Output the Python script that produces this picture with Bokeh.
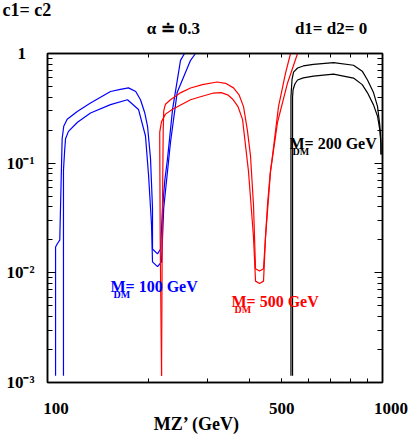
from bokeh.plotting import figure
from bokeh.models import Range1d, FixedTicker, LogAxis, Label, CustomJSTickFormatter
from bokeh.embed import file_html
from bokeh.resources import INLINE

# ---------------- data ----------------
# M_DM = 100 GeV (blue), two curves
mdm100_hi_x = [105.7, 105.7, 107.1, 108.8, 110.1, 110.6, 111.8, 114.5, 122.7, 134.4, 154.2, 165.0,
               174.5, 183.4, 189.5, 195.0, 198.9, 203.0, 205.8, 205.8, 213.0, 217.5, 220.5, 224.0,
               228.2, 236.2, 249.5, 256.4]
mdm100_hi_y = [0.00115, 0.0172, 0.0185, 0.0199, 0.0953, 0.167, 0.217, 0.251, 0.296, 0.353, 0.45, 0.47,
               0.486, 0.45, 0.379, 0.29, 0.217, 0.110, 0.039, 0.0165, 0.0149, 0.0165, 0.039, 0.07,
               0.110, 0.309, 0.866, 1.0]
mdm100_lo_x = [111.6, 111.6, 111.9, 112.5, 113.2, 115.5, 122.9, 134.4, 154.2, 173.3, 186.9, 196.1,
               200.3, 204.4, 205.8, 213.0, 219.0, 222.3, 232.9, 243.8, 267.3, 276.6]
mdm100_lo_y = [0.00115, 0.086, 0.099, 0.13, 0.167, 0.195, 0.236, 0.287, 0.342, 0.379, 0.309, 0.177,
               0.0775, 0.0277, 0.0126, 0.0114, 0.0126, 0.039, 0.155, 0.44, 0.866, 1.0]

# M_DM = 500 GeV (red)
mdm500_hi_x = [219.0, 220.0, 221.5, 222.3, 225.0, 232.9, 250.0, 267.3, 290.0, 320.8, 340.0, 359.2,
               373.0, 384.7, 395.0, 403.6, 412.0, 417.8, 429.5, 441.4, 453.7, 462.0, 469.6, 489.3,
               513.5, 531.5]
mdm500_hi_y = [0.00115, 0.02, 0.2, 0.30, 0.345, 0.379, 0.44, 0.485, 0.52, 0.55, 0.535, 0.486,
               0.42, 0.328, 0.2, 0.117, 0.0418, 0.0109, 0.0104, 0.0109, 0.0418, 0.08, 0.117, 0.328,
               0.662, 1.0]
mdm500_lo_x = [219.0, 217.0, 216.3, 216.3, 219.0, 225.0, 235.6, 267.3, 286.2, 313.0, 330.0, 345.0,
               356.7, 370.0, 382.1, 398.1, 412.0, 417.8, 429.5, 441.4, 447.5, 463.2, 486.0, 520.7,
               557.7]
mdm500_lo_y = [0.00115, 0.02, 0.15, 0.192, 0.24, 0.28, 0.309, 0.379, 0.4035, 0.436, 0.44, 0.42,
               0.385, 0.33, 0.251, 0.0842, 0.0212, 0.0084, 0.0080, 0.0084, 0.0212, 0.0842, 0.236,
               0.539, 1.0]

# M_DM = 200 GeV (black)
mdm200_hi_x = [533.0, 533.0, 534.5, 537.0, 542.6, 557.7, 580.0, 622.3, 714.1, 819.3, 870.0, 902.0,
               940.0, 966.3, 982.0, 989.0, 990.0]
mdm200_hi_y = [0.00115, 0.40, 0.466, 0.58, 0.676, 0.738, 0.77, 0.797, 0.826, 0.781, 0.69, 0.573,
               0.44, 0.33, 0.22, 0.16, 0.12]
mdm200_lo_x = [538.9, 538.9, 541.0, 548.0, 557.7, 580.0, 622.3, 714.1, 819.3, 870.0, 902.0, 940.0,
               966.3, 982.0, 989.0, 990.0]
mdm200_lo_y = [0.00115, 0.40, 0.47, 0.53, 0.573, 0.60, 0.622, 0.648, 0.597, 0.52, 0.438, 0.34,
               0.268, 0.2, 0.15, 0.12]

# ticks and tick labels
x_tick_vals = [100, 500, 1000]
x_tick_text = ["100", "500", "1000"]
x_minor = [200, 300, 400, 500, 600, 700, 800, 900]
y_tick_vals = [1, 0.1, 0.01, 0.001]
y_tick_text = ["1", "10\u207b\u00b9", "10\u207b\u00b2", "10\u207b\u00b3"]
y_minor = [m * d for d in (0.001, 0.01, 0.1) for m in range(2, 10)]

# header texts (placed along the top axis) and corner label
header_x = [237.7, 702.1]
header_text = ["\u03b1 \u2250 0.3", "d1= d2= 0"]
corner_text = "c1= c2"
x_title = "MZ\u2019 (GeV)"

# in-plot labels: anchor (x, y), mass, colour
mdm_labels = [
    (154.2, 0.00754, 100, "blue"),
    (354.3, 0.00543, 500, "red"),
    (527.8, 0.150, 200, "black"),
]

# ---------------- style helpers ----------------
FONT = "Liberation Serif"
ENSP = "\u2002"
x_tick_pad = [ENSP * 2, "", ENSP * 2]   # nudges the end labels inward like the original
y_tick_pad = [ENSP, "", "", ""]


def label_formatter(vals, labs):
    return CustomJSTickFormatter(args=dict(vals=vals, labs=labs), code="""
        for (let i = 0; i < vals.length; i++) {
            if (Math.abs(Math.log10(vals[i]) - Math.log10(tick)) < 1e-6) return labs[i];
        }
        return "";
    """)


# ---------------- figure ----------------
p = figure(width=415, height=436, x_axis_type="log", y_axis_type="log",
           x_range=Range1d(100, 1000), y_range=Range1d(1e-3, 1),
           output_backend="svg", toolbar_location=None, title=corner_text,
           min_border_left=47, min_border_right=33, min_border_top=53, min_border_bottom=48)
p.grid.visible = False
p.outline_line_color = "black"
p.outline_line_width = 1.5
p.background_fill_color = "white"
p.border_fill_color = "white"

p.title.align = "left"
p.title.vertical_align = "bottom"
p.title.offset = -45
p.title.standoff = -8
p.title.text_font = FONT
p.title.text_font_size = "18px"
p.title.text_font_style = "bold"
p.title.text_color = "black"

bottom = p.below[0]
left = p.left[0]
top = LogAxis()
right = LogAxis()
p.add_layout(top, "above")
p.add_layout(right, "right")

bottom.ticker = FixedTicker(ticks=x_tick_vals, minor_ticks=x_minor)
bottom.formatter = label_formatter(x_tick_vals, [pad + t for pad, t in zip(x_tick_pad, x_tick_text)])
bottom.major_label_standoff = 16
bottom.axis_label = x_title + "\u2003\u2003"
bottom.axis_label_standoff = -7
bottom.axis_label_text_font = FONT
bottom.axis_label_text_font_size = "18px"
bottom.axis_label_text_font_style = "bold"
bottom.axis_label_text_color = "black"

left.ticker = FixedTicker(ticks=y_tick_vals, minor_ticks=y_minor)
left.formatter = label_formatter(y_tick_vals, [t + pad for pad, t in zip(y_tick_pad, y_tick_text)])
left.major_label_standoff = 13

top.ticker = FixedTicker(ticks=header_x, minor_ticks=x_minor)
top.formatter = label_formatter(header_x, header_text)
top.major_label_standoff = 16

right.ticker = FixedTicker(ticks=y_tick_vals, minor_ticks=y_minor)
right.formatter = label_formatter([], [])
right.major_label_standoff = 0
right.major_label_text_font_size = "1px"

for ax in [bottom, left, top, right]:
    ax.major_tick_out = 0
    ax.minor_tick_out = 0
    ax.axis_line_color = "black"
    ax.axis_line_width = 1.5
    ax.major_tick_line_color = "black"
    ax.minor_tick_line_color = "black"
for ax in [bottom, left, top]:
    ax.major_label_text_font = FONT
    ax.major_label_text_font_size = "17px"
    ax.major_label_text_font_style = "bold"
    ax.major_label_text_color = "black"
bottom.major_tick_in = 4
bottom.minor_tick_in = 4
top.major_tick_in = 0
top.minor_tick_in = 4
for ax in [left, right]:
    ax.major_tick_in = 8
    ax.minor_tick_in = 5

# ---------------- curves ----------------
p.line(mdm100_hi_x, mdm100_hi_y, line_color="blue", line_width=1.2)
p.line(mdm100_lo_x, mdm100_lo_y, line_color="blue", line_width=1.2)
p.line(mdm500_hi_x, mdm500_hi_y, line_color="red", line_width=1.2)
p.line(mdm500_lo_x, mdm500_lo_y, line_color="red", line_width=1.2)
p.line(mdm200_hi_x, mdm200_hi_y, line_color="black", line_width=1.2)
p.line(mdm200_lo_x, mdm200_lo_y, line_color="black", line_width=1.2)


def txt(x, y, text, size, color="black", xo=0, yo=0):
    p.add_layout(Label(x=x, y=y, x_units="data", y_units="data", text=text,
                       x_offset=xo, y_offset=yo, text_font=FONT, text_font_size=f"{size}px",
                       text_font_style="bold", text_color=color,
                       text_align="left", text_baseline="alphabetic"))


for x, y, mass, color in mdm_labels:
    txt(x, y, "M", 16, color=color)
    txt(x, y, "DM", 10, color=color, xo=3, yo=-8)
    txt(x, y, f"= {mass} GeV", 16, color=color, xo=15)

open("out.html", "w").write(file_html(p, INLINE))
